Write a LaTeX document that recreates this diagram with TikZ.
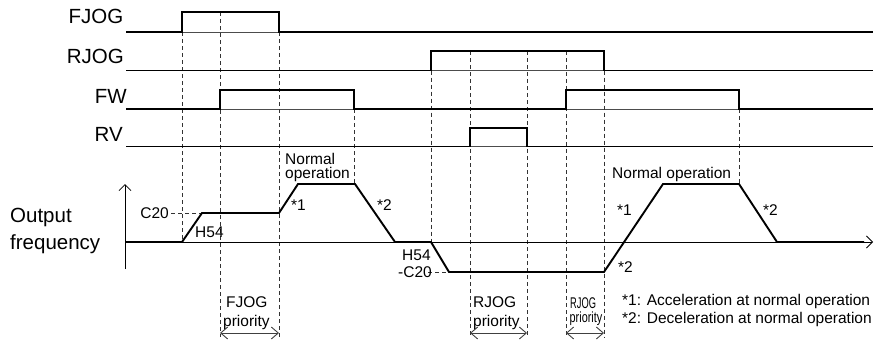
\documentclass[tikz,border=0pt]{standalone}
\usepackage{fontspec}
\setmainfont{Liberation Sans}
\usetikzlibrary{arrows.meta}
\begin{document}
\begin{tikzpicture}[x=1pt,y=-1pt,
  big/.style={font=\fontsize{20.5}{22}\selectfont, inner sep=0pt},
  small/.style={font=\fontsize{15.5}{16}\selectfont, inner sep=0pt},
  sig/.style={line width=1.9pt, line join=miter},
  baseline/.style={line width=0.8pt, black!70},
  guide/.style={line width=0.7pt, black!80, dash pattern=on 4pt off 3pt},
  axisline/.style={line width=0.8pt, -{Straight Barb[length=6pt,width=12pt]}},
  span/.style={line width=0.9pt, black!75, {Straight Barb[length=7pt,width=12pt]}-{Straight Barb[length=7pt,width=12pt]}}
]
\useasboundingbox (0,0) rectangle (881,340);

% signal labels
\node[big, anchor=base east] (lfjog) at (123.5,23.3) {FJOG};
\node[big, anchor=base east] (lrjog) at (124,63.3) {RJOG};
\node[big, anchor=base east] (lfw) at (127,103.3) {FW};
\node[big, anchor=base east] (lrv) at (123,141.7) {RV};

% baselines
\draw[baseline] (126,32) -- (873,32);
\draw[baseline] (126,70.5) -- (873,70.5);
\draw[baseline] (126,109) -- (873,109);
\draw[baseline] (126,146.5) -- (873,146.5);

% guides
\draw[guide] (182,32) -- (182,242);
\draw[guide] (220,12) -- (220,337);
\draw[guide] (279,32) -- (279,337);
\draw[guide] (354,109) -- (354,184);
\draw[guide] (431,70.5) -- (431,242);
\draw[guide] (470,51) -- (470,337);
\draw[guide] (527,51) -- (527,337);
\draw[guide] (566,51) -- (566,337);
\draw[guide] (604,70.5) -- (604,337);
\draw[guide] (739,109) -- (739,184);
\draw[guide] (171,213) -- (202,213);
\draw[guide] (428,272) -- (449,272);

% signals
\draw[sig] (126,32) -- (182,32) -- (182,12) -- (279,12) -- (279,32) -- (873,32);
\draw[sig] (126,70.5) -- (431,70.5) -- (431,51) -- (604,51) -- (604,70.5) -- (873,70.5);
\draw[sig] (126,109) -- (220,109) -- (220,90) -- (354,90) -- (354,109) -- (566,109) -- (566,90) -- (739,90) -- (739,109) -- (873,109);
\draw[sig] (126,146.5) -- (470,146.5) -- (470,128) -- (527,128) -- (527,146.5) -- (873,146.5);

% axes
\draw[axisline] (125,269) -- (125,184);
\draw[axisline] (125,242) -- (873,242);

% output frequency
\draw[sig] (125,242) -- (182,242) -- (202,213) -- (279,213) -- (298,184) -- (355,184) -- (395,242) -- (431,242) -- (449,272) -- (604,272) -- (663,184) -- (739,184) -- (777,242) -- (864,242);

\node[big, anchor=base west] (lout) at (10,222.5) {Output};
\node[big, anchor=base west] (lfreq) at (10,249.5) {frequency};

% curve labels
\node[small, anchor=base west] (norm1a) at (285,164) {Normal};
\node[small, anchor=base west] (norm1b) at (285,178) {operation};
\node[small, anchor=base west] (s1a) at (291,210) {*1};
\node[small, anchor=base west] (s2a) at (377,210) {*2};
\node[small, anchor=base east] (c20) at (169,218.5) {C20};
\node[small, anchor=base west] (h54a) at (195,237.5) {H54};
\node[small, anchor=base west] (h54b) at (402,260.5) {H54};
\node[small, anchor=base west] (mc20) at (398,277.5) {-C20};
\node[small, anchor=base west] (norm2) at (612,178.5) {Normal operation};
\node[small, anchor=base west] (s1b) at (617,215.5) {*1};
\node[small, anchor=base west] (s2b) at (763,215.5) {*2};
\node[small, anchor=base west] (s2c) at (618,272.5) {*2};

% priority spans
\draw[span] (220,333) -- (279,333);
\draw[span] (470,333) -- (527,333);
\draw[span] (566,333) -- (604,333);
\node[small, anchor=base west] (fj1) at (226,307) {FJOG};
\node[small, anchor=base west] (fj2) at (223,326) {priority};
\node[small, anchor=base west] (rj1) at (473,307) {RJOG};
\node[small, anchor=base west] (rj2) at (473,326) {priority};
\node[small, anchor=base west] (rj3) at (570,308) {\scalebox{0.6}[1]{RJOG}};
\node[small, anchor=base west] (rj4) at (569.5,322) {\scalebox{0.7}[0.95]{priority}};

% legend
\node[small, anchor=base west] (leg1) at (622,305) {*1: Acceleration at normal operation};
\node[small, anchor=base west] (leg2) at (622,323) {*2: Deceleration at normal operation};
\end{tikzpicture}
\end{document}
